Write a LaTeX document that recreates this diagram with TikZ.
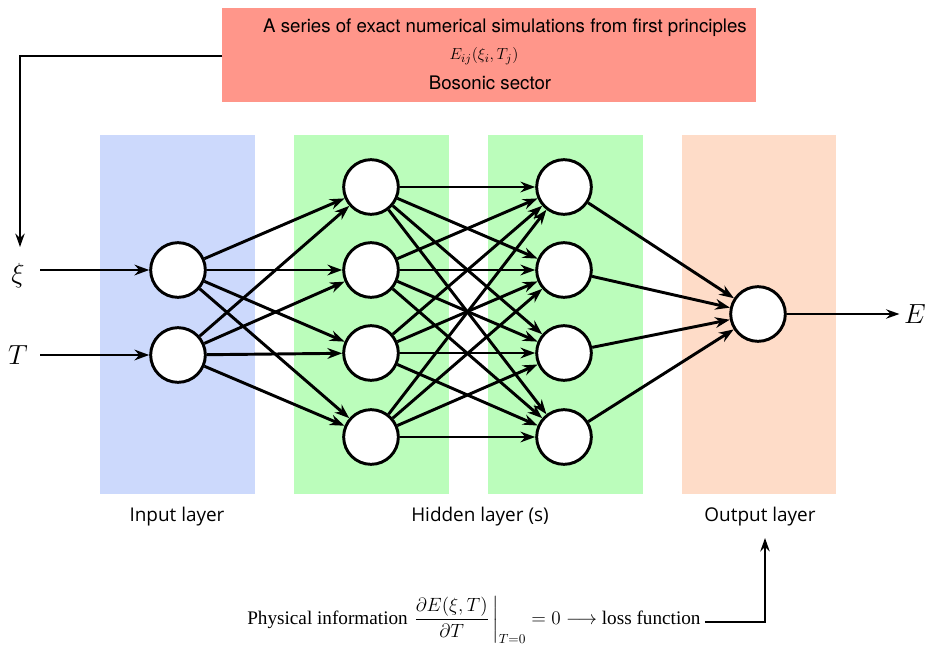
\documentclass[tikz,border=0pt]{standalone}
\usepackage{amsmath}
\usepackage{fontspec}
\setmainfont{Liberation Serif}
\newfontfamily\boxfont{TeX Gyre Heros}
\newfontfamily\labelfont{Open Sans}
\usetikzlibrary{arrows.meta}
\definecolor{box red}{HTML}{FF968A}
\definecolor{layer blue}{HTML}{CCD9FC}
\definecolor{layer green}{HTML}{BBFDBB}
\definecolor{layer orange}{HTML}{FEDCC8}
\tikzset{
	neuron/.style={circle, draw, fill=white, line width=2.2pt, minimum size=41pt, inner sep=0pt},
	link/.style={line width=2.2pt, -{Stealth[length=11pt, width=8pt]}},
	feed/.style={line width=1.4pt, -{Stealth[length=10pt, width=7pt]}},
	layername/.style={font=\labelfont\fontsize{14.2}{16}\selectfont}
}
\begin{document}
\begin{tikzpicture}[x=0.75pt, y=-0.75pt]
		\useasboundingbox (0, 0) rectangle (928, 653);
		% layers
		\begin{scope}
			\fill[layer blue] (100, 135) rectangle (255, 494);
			\fill[layer green] (294, 135) rectangle (449, 494);
			\fill[layer green] (488, 135) rectangle (643, 494);
			\fill[layer orange] (682, 135) rectangle (836, 494);
		\end{scope}
		% simulation box
		\fill[box red] (222, 8) rectangle (756, 102);
		\node (sim) at (505, 28) {\boxfont\fontsize{14}{16}\selectfont A series of exact numerical simulations from first principles};
		\node at (484, 56) {\fontsize{12.5}{14}\selectfont $E_{ij}(\xi_i, T_j)$};
		\node at (490, 83) {\boxfont\fontsize{14}{16}\selectfont Bosonic sector};
		\coordinate (sim-out) at (222, 56);
		% neurons
		\foreach \i/\y in {1/270, 2/355}
			\node[neuron] (inp-\i) at (178, \y) {};
		\foreach \i/\y in {1/187, 2/270, 3/353, 4/437} {
			\node[neuron] (hida-\i) at (371, \y) {};
			\node[neuron] (hidb-\i) at (564, \y) {};
		}
		\node[neuron] (out) at (758, 314) {};
		% links
		\foreach \i in {1, 2}
			\foreach \j in {1, ..., 4}
				\draw[link] (inp-\i) -- (hida-\j);
		\foreach \i in {1, ..., 4}
			\foreach \j in {1, ..., 4}
				\draw[link] (hida-\i) -- (hidb-\j);
		\foreach \i in {1, ..., 4}
			\draw[link] (hidb-\i) -- (out);
		% inputs and output
		\node (xi) at (18, 276) {\fontsize{21}{24}\selectfont $\xi$};
		\node (temp) at (18, 355) {\fontsize{21}{24}\selectfont $T$};
		\node (energy) at (915, 314) {\fontsize{21}{24}\selectfont $E$};
		\coordinate (xi-start) at (40, 270);
		\coordinate (temp-start) at (40, 355);
		\draw[link] (xi-start) -- (inp-1);
		\draw[link] (temp-start) -- (inp-2);
		\draw[feed] (out) -- (energy);
		\draw[feed] (sim-out) -| (20, 247) coordinate (xi-end);
		% layer names
		\node[layername] (inp-name) at (177, 517) {Input layer};
		\node[layername] (hid-name) at (480, 517) {Hidden layer (s)};
		\node[layername] (out-name) at (760, 517) {Output layer};
		% physical information
		\node[anchor=west, inner sep=0pt] (phys) at (247, 620) {\fontsize{14.4}{16}\selectfont Physical information
			$\left.\dfrac{\partial E(\xi, T)}{\partial T}\,\right|_{T=0} = 0 \longrightarrow$ loss function};
		\draw[feed] (phys.east) ++(4, 2) -| (765, 538) coordinate (out-name-in);
	\end{tikzpicture}
\end{document}
